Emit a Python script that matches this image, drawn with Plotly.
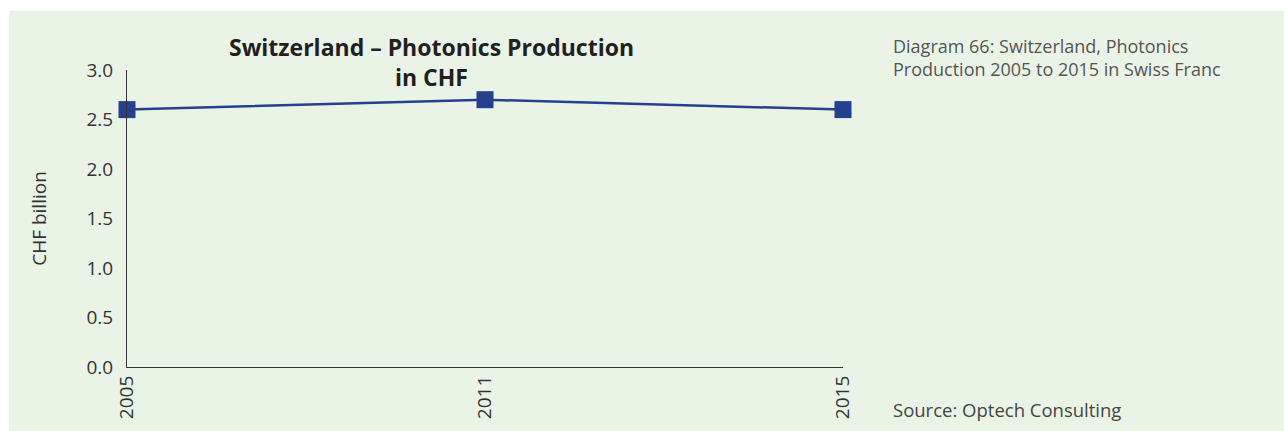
import plotly.graph_objects as go

years = ["2005", "2011", "2015"]
values = [2.6, 2.7, 2.6]
y_ticks = [0.0, 0.5, 1.0, 1.5, 2.0, 2.5, 3.0]

W, H = 1284, 431
L, R, T, B = 127, 441, 70, 62
pw, ph = W - L - R, H - T - B

def px(x):
    return (x - L) / pw

def py(y):
    return (H - B - y) / ph

fig = go.Figure()
fig.add_trace(go.Scatter(
    x=years, y=values, mode="lines+markers",
    line=dict(color="#263f8f", width=2.5),
    marker=dict(symbol="square", size=17, color="#263f8f"),
    cliponaxis=False, showlegend=False,
))

fig.add_shape(type="rect", xref="paper", yref="paper",
              x0=px(9), x1=px(1290), y0=py(440), y1=py(10),
              fillcolor="#e9f4e7", line=dict(width=0), layer="below")

font = "Open Sans, Lato, sans-serif"
fig.add_annotation(xref="paper", yref="paper", x=px(431), y=py(62),
                   xanchor="center", yanchor="middle", showarrow=False,
                   text="<b>Switzerland – Photonics Production<br>in CHF</b>",
                   font=dict(family=font, size=23, color="#231f20"), align="center")
fig.add_annotation(xref="paper", yref="paper", x=px(891), y=py(57),
                   xanchor="left", yanchor="middle", showarrow=False, align="left",
                   text="Diagram 66: Switzerland, Photonics<br>Production 2005 to 2015 in Swiss Franc",
                   font=dict(family=font, size=18, color="#555"))
fig.add_annotation(xref="paper", yref="paper", x=px(891), y=py(412),
                   xanchor="left", yanchor="middle", showarrow=False,
                   text="Source: Optech Consulting",
                   font=dict(family=font, size=18.5, color="#444"))

fig.update_layout(
    width=W, height=H,
    margin=dict(l=L, r=R, t=T, b=B, pad=0),
    paper_bgcolor="white", plot_bgcolor="rgba(0,0,0,0)",
    font=dict(family=font, color="#333"),
    xaxis=dict(type="category", range=[0, 2], showgrid=False, showline=True,
               linecolor="#333", linewidth=1.2, tickangle=-90, ticks="",
               tickfont=dict(size=19), zeroline=False),
    yaxis=dict(range=[0, 3], tickvals=y_ticks, tickformat=".1f", showgrid=False,
               showline=True, linecolor="#333", linewidth=1.2, ticks="",
               ticklabelstandoff=9,
               tickfont=dict(size=19), zeroline=False,
               title=dict(text="CHF billion", font=dict(size=19), standoff=34)),
)

fig.write_html("out.html", config={"displayModeBar": False},
               post_script="document.body.style.margin='0px';document.body.style.overflow='hidden';")
